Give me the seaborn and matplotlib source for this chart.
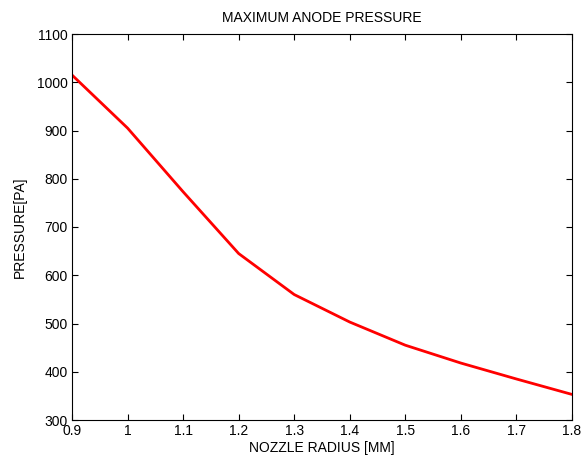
import matplotlib
matplotlib.use("Agg")
import matplotlib.pyplot as plt
import seaborn as sns
import pandas as pd

radius = [0.9, 1.0, 1.1, 1.2, 1.3, 1.4, 1.5, 1.6, 1.7, 1.8]
pressure = [1015, 905, 773, 645, 560, 503, 455, 418, 385, 353]
xticks = [0.9, 1, 1.1, 1.2, 1.3, 1.4, 1.5, 1.6, 1.7, 1.8]
xticklabels = ["0.9", "1", "1.1", "1.2", "1.3", "1.4", "1.5", "1.6", "1.7", "1.8"]
yticks = [300, 400, 500, 600, 700, 800, 900, 1000, 1100]

sns.set_theme(style="ticks")
plt.rcParams['font.family'] = ['Liberation Sans', 'DejaVu Sans']
plt.rcParams['text.color'] = 'black'
plt.rcParams['axes.labelcolor'] = 'black'

df = pd.DataFrame({"r": radius, "p": pressure})
fig = plt.figure(figsize=(5.82, 4.66), dpi=100)
ax = fig.add_axes([72/582, 1-420/466, 500/582, 386/466])
sns.lineplot(data=df, x="r", y="p", ax=ax, color="#ff0000", linewidth=2.0)
ax.set_xlim(0.9, 1.8)
ax.set_ylim(300, 1100)
ax.set_xticks(xticks)
ax.set_xticklabels(xticklabels)
ax.set_yticks(yticks)
ax.tick_params(direction="in", top=True, right=True, labelsize=10, length=4, width=0.8, colors="black", labelcolor="black", pad=3)
for s in ax.spines.values():
    s.set_visible(True)
    s.set_color("black")
    s.set_linewidth(0.8)
ax.set_xlabel("NOZZLE RADIUS [MM]", fontsize=10, labelpad=2, color="black")
ax.set_ylabel("PRESSURE[PA]", fontsize=10, labelpad=7, color="black")
ax.set_title("MAXIMUM ANODE PRESSURE", fontsize=10, pad=9, color="black")
fig.savefig("out.png", dpi=100, facecolor="white")
